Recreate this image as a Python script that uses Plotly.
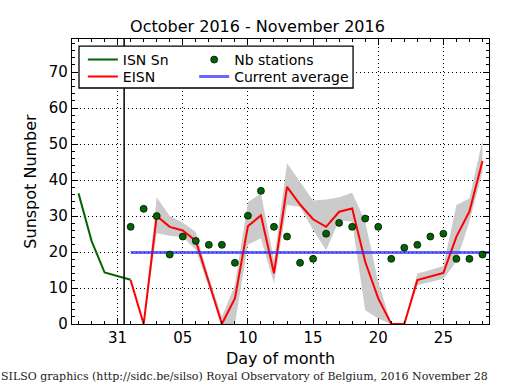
import plotly.graph_objects as go
import pandas as pd

# ---- data ----
isn_dates = pd.date_range("2016-10-28", "2016-11-01", freq="D")
isn_values = [36.3, 23.1, 14.3, 13.3, 12.3]

days = pd.date_range("2016-11-01", "2016-11-28", freq="D")
eisn_values = [12.2, 0, 30.0, 27.0, 26.0, 23.1, 11.6, 0, 7.1, 27.2,
               30.2, 14.1, 38.1, 33.2, 29.1, 27.0, 31.2, 32.1, 17.3, 7.1,
               0, 0, 12.2, 13.1, 14.2, 24.3, 31.3, 45.3]
band_upper = [12.2, 0, 35.2, 30.0, 28.2, 25.6, 13.0, 2.0, 10.8, 33.8,
              36.3, 17.7, 44.7, 39.6, 34.3, 34.6, 35.2, 36.5, 28.5, 11.7,
              0, 0, 14.0, 15.0, 16.1, 33.1, 34.9, 51.1]
band_lower = [12.2, 0, 25.2, 24.5, 24.2, 20.6, 10.2, 0, 0, 22.0,
              23.8, 11.3, 33.1, 32.6, 26.1, 20.5, 28.8, 28.4, 3.8, 1.5,
              0, 0, 10.8, 11.7, 12.6, 17.4, 28.5, 42.3]
stations = [27, 32, 30, 19.3, 24.3, 23.1, 22, 22, 17, 30.1,
            37, 27, 24.3, 17, 18.1, 25.1, 28.1, 27, 29.3, 27,
            18.1, 21.2, 22, 24.3, 25.1, 18.1, 18.1, 19.3]
avg_value = 19.9
avg_start = "2016-11-01"
avg_end = "2016-11-28 12:00"
marker_date = "2016-10-31 12:00"

x_range = ["2016-10-27 12:00", "2016-11-28 12:00"]
y_range = [0, 79.2]
tick_dates = ["2016-10-31", "2016-11-05", "2016-11-10", "2016-11-15",
              "2016-11-20", "2016-11-25"]
tick_labels = ["31", "05", "10", "15", "20", "25"]
y_ticks = [0, 10, 20, 30, 40, 50, 60, 70]

title = "October 2016 - November 2016"
footer = "SILSO graphics (http://sidc.be/silso) Royal Observatory of Belgium, 2016 November 28"

FONT = "DejaVu Sans"
GRIDDASH = "1px,3px"

fig = go.Figure()

# band
fig.add_trace(go.Scatter(x=days, y=band_lower, mode="lines", line=dict(width=0),
                         showlegend=False, hoverinfo="skip"))
fig.add_trace(go.Scatter(x=days, y=band_upper, mode="lines", line=dict(width=0),
                         fill="tonexty", fillcolor="#cbcbcb",
                         showlegend=False, hoverinfo="skip"))

fig.add_trace(go.Scatter(x=isn_dates, y=isn_values, mode="lines", name="ISN Sn",
                         line=dict(color="#006400", width=2), legend="legend"))
fig.add_trace(go.Scatter(x=days, y=eisn_values, mode="lines", name="EISN",
                         line=dict(color="#ff0000", width=2), legend="legend2"))
fig.add_trace(go.Scatter(x=[avg_start, avg_end], y=[avg_value, avg_value], mode="lines",
                         name="Current average",
                         line=dict(color="rgba(40,40,255,0.7)", width=3),
                         legend="legend4"))
fig.add_trace(go.Scatter(x=days, y=stations, mode="markers", name="Nb stations",
                         marker=dict(color="#006400", size=7,
                                     line=dict(color="black", width=0.7)),
                         legend="legend3"))

# vertical line
fig.add_shape(type="line", x0=marker_date, x1=marker_date, y0=0, y1=1,
              xref="x", yref="paper", line=dict(color="black", width=1.5))

# legend frame
fig.add_shape(type="rect", xref="paper", yref="paper",
              x0=0.0168, x1=0.674, y0=0.828, y1=0.975, layer="above",
              fillcolor="white", line=dict(color="black", width=1.3))

legend_common = dict(orientation="v", xanchor="left", yanchor="top",
                     bgcolor="rgba(0,0,0,0)", borderwidth=0,
                     font=dict(size=14, family=FONT),
                     traceorder="normal", itemwidth=30, tracegroupgap=0)

col1_x, col2_x = 0.026, 0.293
row1_y, row2_y = 0.9825, 0.9228

fig.update_layout(
    width=515, height=390,
    margin=dict(l=72, r=26, t=39, b=66),
    paper_bgcolor="white", plot_bgcolor="white",
    font=dict(family=FONT, color="black", size=14),
    title=dict(text=title, x=0.5, xanchor="center", y=0.933, yanchor="middle",
               font=dict(size=16, family=FONT)),
    showlegend=True,
    legend=dict(x=col1_x, y=row1_y, **legend_common),
    legend2=dict(x=col1_x, y=row2_y, **legend_common),
    legend3=dict(x=col2_x, y=row1_y, **legend_common),
    legend4=dict(x=col2_x, y=row2_y, **legend_common),
)

fig.update_xaxes(
    type="date", range=x_range, automargin=False,
    tickvals=tick_dates, ticktext=tick_labels,
    ticks="inside", ticklen=6, tickwidth=1, tickcolor="black",
    showline=True, linecolor="black", linewidth=1.3, mirror="allticks",
    showgrid=True, gridcolor="black", griddash=GRIDDASH, gridwidth=1,
    minor=dict(dtick=86400000, ticks="inside", ticklen=3, tickcolor="black",
               showgrid=False),
    tickfont=dict(size=15, family=FONT),
    title=dict(text="Day of month", font=dict(size=16, family=FONT), standoff=6),
    zeroline=False,
)
fig.update_yaxes(
    range=y_range, tickvals=y_ticks, automargin=False,
    ticks="inside", ticklen=6, tickwidth=1, tickcolor="black",
    showline=True, linecolor="black", linewidth=1.3, mirror="allticks",
    showgrid=True, gridcolor="black", griddash=GRIDDASH, gridwidth=1,
    minor=dict(dtick=2, ticks="inside", ticklen=3, tickcolor="black", showgrid=False),
    tickfont=dict(size=15, family=FONT),
    title=dict(text="Sunspot Number", font=dict(size=16, family=FONT), standoff=8),
    zeroline=False,
)

fig.add_annotation(text=footer, xref="paper", yref="paper", x=-0.175, y=-0.185,
                   xanchor="left", yanchor="middle", showarrow=False,
                   font=dict(family="DejaVu Serif", size=11, color="#222222"))

fig.write_html("out.html", config={"displayModeBar": False},
               post_script="document.body.style.margin='0px';document.body.style.overflow='hidden';")
